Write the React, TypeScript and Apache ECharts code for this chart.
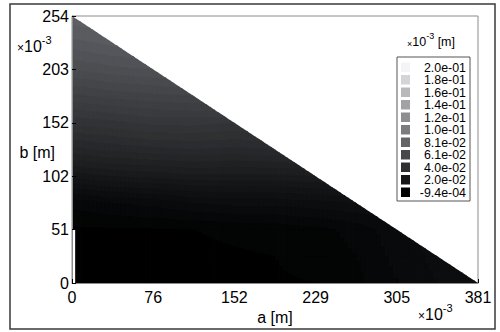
import React, { useEffect, useRef } from "react";
import * as echarts from "echarts";

// grid nodes (mm, i.e. x10^-3 m)
const aGrid = [0, 38.1, 76.2, 114.3, 152.4, 190.5, 228.6, 266.7, 304.8, 342.9, 381];
const bGrid = [0, 25.4, 50.8, 76.2, 101.6, 127, 152.4, 177.8, 203.2, 228.6, 254];

// field values (x10^-3 m), rows = b from 0 to 254
const row0 = [-0.0009, -0.0009, -0.0009, -0.0008, -0.0006, -0.0003, 0.0, 0.002, 0.006, 0.009, 0.010];
const row1 = [-0.0009, -0.0009, -0.0008, -0.0006, -0.0003, 0.0, 0.001, 0.003, 0.007, 0.010, 0.011];
const row2 = [-0.0005, -0.0004, -0.0003, 0.0, 0.0005, 0.001, 0.002, 0.004, 0.008, 0.010, 0.012];
const row3 = [0.004, 0.006, 0.007, 0.009, 0.010, 0.010, 0.011, 0.012, 0.013, 0.015, 0.016];
const row4 = [0.019, 0.021, 0.022, 0.023, 0.023, 0.023, 0.024, 0.025, 0.026, 0.027, 0.028];
const row5 = [0.032, 0.034, 0.035, 0.036, 0.035, 0.036, 0.037, 0.038, 0.039, 0.040, 0.041];
const row6 = [0.043, 0.044, 0.046, 0.046, 0.045, 0.047, 0.048, 0.049, 0.050, 0.051, 0.052];
const row7 = [0.053, 0.055, 0.056, 0.057, 0.058, 0.059, 0.060, 0.061, 0.062, 0.063, 0.064];
const row8 = [0.063, 0.065, 0.066, 0.067, 0.068, 0.069, 0.070, 0.071, 0.072, 0.073, 0.074];
const row9 = [0.071, 0.073, 0.074, 0.075, 0.076, 0.077, 0.078, 0.079, 0.080, 0.081, 0.082];
const row10 = [0.077, 0.079, 0.080, 0.081, 0.082, 0.083, 0.084, 0.085, 0.086, 0.087, 0.088];
const field = [row0, row1, row2, row3, row4, row5, row6, row7, row8, row9, row10];

const xTickLabels = ["0", "76", "152", "229", "305", "381"];
const yTickLabels = ["0", "51", "102", "152", "203", "254"];

const legendLabels = ["2.0e-01", "1.8e-01", "1.6e-01", "1.4e-01", "1.2e-01", "1.0e-01", "8.1e-02", "6.1e-02", "4.0e-02", "2.0e-02", "-9.4e-04"];
const legendValues = [0.2, 0.18, 0.16, 0.14, 0.12, 0.1, 0.081, 0.061, 0.04, 0.02, -0.00094];
const legendGrays = [244, 212, 184, 162, 142, 124, 100, 72, 46, 22, 0];

// uncovered strip at the left edge [aStart, bStart, aEnd, bEnd]
const whiteStrip = [0, 0, 2.5, 51];

const FONT = "'Liberation Sans', Arial, Helvetica, sans-serif";
const STEP = 0.003;

function grayOf(v: number): number {
  const vs = [...legendValues].reverse();
  const gs = [...legendGrays].reverse();
  if (v <= vs[0]) return gs[0];
  for (let k = 0; k < vs.length - 1; k++) {
    if (v <= vs[k + 1]) return gs[k] + ((gs[k + 1] - gs[k]) * (v - vs[k])) / (vs[k + 1] - vs[k]);
  }
  return gs[gs.length - 1];
}

function fieldColor(v: number): string {
  if (v <= 0) return "rgb(0,0,0)";
  const band = Math.floor(v / STEP);
  const g = grayOf((band + 0.5) * STEP);
  const r = Math.round(g);
  const gg = Math.round(Math.min(255, g + (g > 0 ? 1 : 0)));
  const b = Math.round(Math.min(255, g * 1.05 + (g > 0 ? 1.5 : 0)));
  return `rgb(${r},${gg},${b})`;
}

const A_MAX = aGrid[aGrid.length - 1];
const B_MAX = bGrid[bGrid.length - 1];

// clip polygon (pixel space) to the side of line P0->P1 where `inside` lies
function clipHalf(pts: number[][], P0: number[], P1: number[], inside: number[]): number[][] {
  const dx = P1[0] - P0[0], dy = P1[1] - P0[1];
  const side = (p: number[]) => dx * (p[1] - P0[1]) - dy * (p[0] - P0[0]);
  const sIn = Math.sign(side(inside));
  const f = (p: number[]) => -sIn * side(p); // <= 0 inside
  const out: number[][] = [];
  const n = pts.length;
  for (let k = 0; k < n; k++) {
    const cur = pts[k];
    const prev = pts[(k + n - 1) % n];
    const fc = f(cur);
    const fp = f(prev);
    const inter = () => {
      const t = fp / (fp - fc);
      return [prev[0] + t * (cur[0] - prev[0]), prev[1] + t * (cur[1] - prev[1])];
    };
    if (fc <= 0) {
      if (fp > 0) out.push(inter());
      out.push(cur);
    } else if (fp <= 0) {
      out.push(inter());
    }
  }
  return out;
}

const cellData: number[][] = [];
for (let j = 0; j < bGrid.length - 1; j++) {
  for (let i = 0; i < aGrid.length - 1; i++) {
    if (aGrid[i] / A_MAX + bGrid[j] / B_MAX < 1 - 1e-9) cellData.push([i, j]);
  }
}

const richX = {
  t: { fontSize: 12, fontFamily: FONT, verticalAlign: "bottom", lineHeight: 20 },
  n: { fontSize: 16, fontFamily: FONT, verticalAlign: "bottom", lineHeight: 20 },
  s: { fontSize: 11, fontFamily: FONT, verticalAlign: "top", lineHeight: 20 },
};

export default function App() {
  const ref = useRef<HTMLDivElement>(null);
  useEffect(() => {
    if (!ref.current) return;
    const chart = echarts.init(ref.current, null, { renderer: "svg" });

    const renderCell = (params: any, api: any) => {
      const i = api.value(0);
      const j = api.value(1);
      const a0 = aGrid[i], a1 = aGrid[i + 1], b0 = bGrid[j], b1 = bGrid[j + 1];
      const v00 = field[j][i], v10 = field[j][i + 1], v01 = field[j + 1][i], v11 = field[j + 1][i + 1];
      const val = (ta: number, tb: number) =>
        v00 * (1 - ta) * (1 - tb) + v10 * ta * (1 - tb) + v01 * (1 - ta) * tb + v11 * ta * tb;
      const P0 = api.coord([0, B_MAX]);
      const P1 = api.coord([A_MAX, 0]);
      const PI = api.coord([0, 0]);
      const NC = 10, NS = 36;
      const children: any[] = [];
      for (let c = 0; c < NC; c++) {
        const ta = (c + 0.5) / NC;
        const xa0 = a0 + ((a1 - a0) * c) / NC;
        const xa1 = a0 + ((a1 - a0) * (c + 1)) / NC;
        let start = 0;
        let v0 = val(ta, 0.5 / NS);
        let level = Math.floor(v0 / STEP);
        for (let s = 1; s <= NS; s++) {
          const vv = s < NS ? val(ta, (s + 0.5) / NS) : 0;
          const lv = s < NS ? Math.floor(vv / STEP) : NaN;
          if (s === NS || lv !== level) {
            const yb0 = b0 + ((b1 - b0) * start) / NS;
            const yb1 = b0 + ((b1 - b0) * s) / NS;
            const pA = api.coord([xa0, yb0]);
            const pB = api.coord([xa1, yb1]);
            const L = pA[0], R = pB[0] + 0.8, B = pA[1], T = pB[1] - 0.8;
            const poly = clipHalf([[L, B], [R, B], [R, T], [L, T]], P0, P1, PI);
            if (poly.length >= 3) {
              const col = fieldColor(v0);
              children.push({
                type: "polygon",
                shape: { points: poly },
                style: { fill: col },
              });
            }
            start = s;
            level = lv;
            v0 = vv;
          }
        }
      }
      return { type: "group", children };
    };

    const legendChildren: any[] = [];
    legendChildren.push({
      type: "rect",
      shape: { x: 397, y: 57, width: 73, height: 144 },
      style: { fill: "#fff", stroke: "#555", lineWidth: 1 },
    });
    legendLabels.forEach((lab, k) => {
      const g = legendGrays[k];
      const yc = 67 + k * 12.5;
      legendChildren.push({
        type: "rect",
        shape: { x: 401, y: yc - 4.5, width: 9, height: 9.5 },
        style: { fill: `rgb(${g},${g},${Math.min(255, g + 2)})` },
      });
      legendChildren.push({
        type: "text",
        style: {
          x: 466, y: yc + 0.5, text: lab, align: "right", verticalAlign: "middle",
          fontSize: 12.4, lineHeight: 12, fontFamily: FONT, fill: "#000",
        },
      });
    });

    chart.setOption({
      animation: false,
      backgroundColor: "#fff",
      grid: { left: 72, top: 16, right: 22, bottom: 49, show: true, borderColor: "#8c8c8c", borderWidth: 1 },
      xAxis: {
        type: "value", min: 0, max: 381, interval: 76.2, z: 5,
        axisLine: { show: true, lineStyle: { color: "#8c8c8c", width: 1 } },
        axisTick: { show: true, inside: true, length: 4, lineStyle: { color: "#000" } },
        splitLine: { show: false },
        axisLabel: {
          formatter: (v: number) => xTickLabels[Math.round(v / 76.2)] ?? "",
          fontSize: 16, color: "#000", fontFamily: FONT, margin: 6,
        },
        name: "a [m]", nameLocation: "middle", nameGap: 22,
        nameTextStyle: { fontSize: 16, color: "#000", fontFamily: FONT },
      },
      yAxis: {
        type: "value", min: 0, max: 254, interval: 50.8, z: 5,
        axisLine: { show: true, lineStyle: { color: "#8c8c8c", width: 1 } },
        axisTick: { show: true, inside: true, length: 4, lineStyle: { color: "#000" } },
        splitLine: { show: false },
        axisLabel: {
          formatter: (v: number) => yTickLabels[Math.round(v / 50.8)] ?? "",
          fontSize: 16, color: "#000", fontFamily: FONT, margin: 3,
        },
      },
      series: [
        {
          type: "custom",
          renderItem: renderCell,
          data: cellData,
          encode: { x: 0, y: 1 },
          silent: true,
        },
        {
          type: "custom",
          data: [whiteStrip],
          silent: true,
          z: 3,
          renderItem: (params: any, api: any) => {
            const p0 = api.coord([api.value(0), api.value(1)]);
            const p1 = api.coord([api.value(2), api.value(3)]);
            return {
              type: "rect",
              shape: { x: p0[0] + 0.5, y: p1[1], width: p1[0] - p0[0], height: p0[1] - p1[1] },
              style: { fill: "#fff" },
            };
          },
        },
      ],
      graphic: [
        {
          type: "rect",
          shape: { x: 10, y: 4, width: 485, height: 325 },
          style: { fill: "none", stroke: "#3a3a3a", lineWidth: 1.5 },
          silent: true,
        },
        {
          type: "text",
          style: {
            x: 55, y: 152, text: "b [m]", align: "right", verticalAlign: "middle",
            fontSize: 16, fontFamily: FONT, fill: "#000",
          },
        },
        {
          type: "text",
          style: { x: 17, y: 34, text: "{t|×}{n|10}{s|-3}", fontFamily: FONT, fill: "#000", rich: richX },
        },
        {
          type: "text",
          style: { x: 418, y: 302, text: "{t|×}{n|10}{s|-3}", fontFamily: FONT, fill: "#000", rich: richX },
        },
        {
          type: "text",
          style: {
            x: 407, y: 31, text: "{t|×}{n|10}{s|-3}{n| [m]}", fontFamily: FONT, fill: "#000",
            rich: {
              t: { fontSize: 9, fontFamily: FONT, verticalAlign: "bottom", lineHeight: 17 },
              n: { fontSize: 12.5, fontFamily: FONT, verticalAlign: "bottom", lineHeight: 17 },
              s: { fontSize: 9, fontFamily: FONT, verticalAlign: "top", lineHeight: 17 },
            },
          },
        },
        { type: "group", children: legendChildren },
      ],
    });
    return () => chart.dispose();
  }, []);
  return (
    <div
      ref={ref}
      style={{ position: "absolute", left: 0, top: 0, width: 500, height: 332, background: "#fff" }}
    />
  );
}
